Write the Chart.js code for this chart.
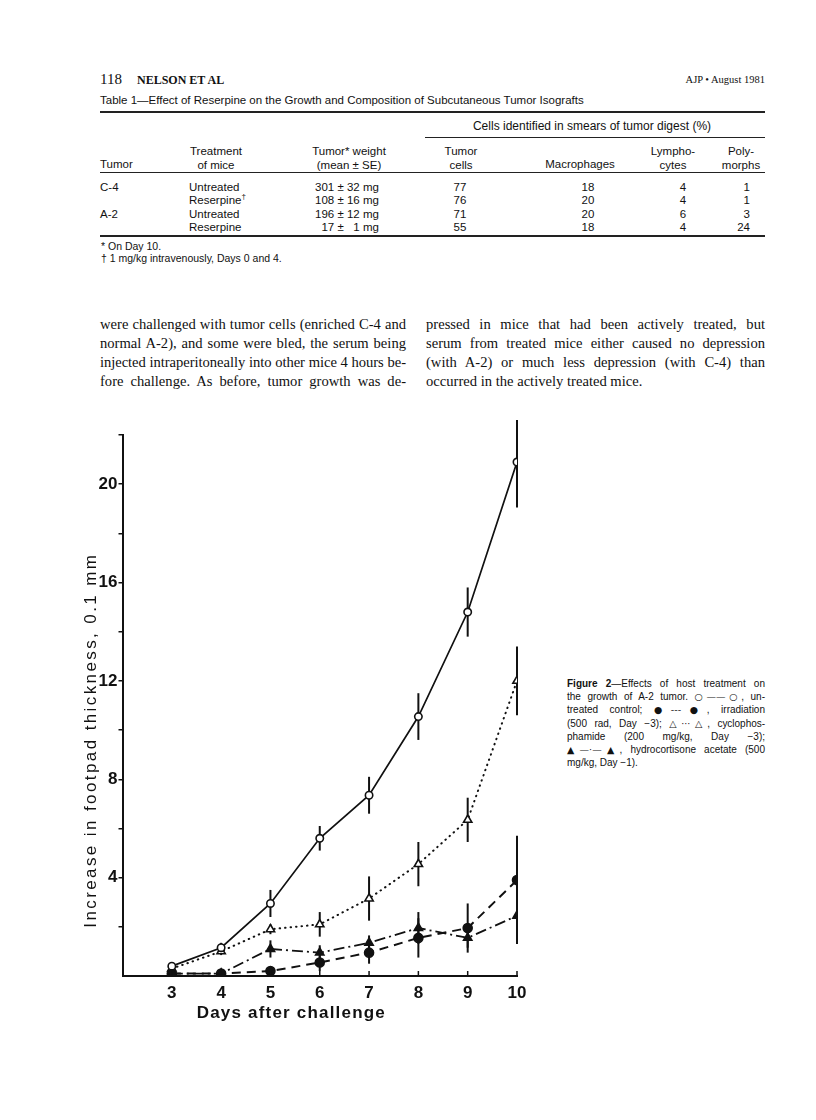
<!DOCTYPE html>
<html>
<head>
<meta charset="utf-8">
<script src="https://cdn.jsdelivr.net/npm/chart.js@4.4.1/dist/chart.umd.min.js"></script>
<style>
  body { margin: 0; background: #fff; }
  #page { position: relative; width: 816px; height: 1120px; overflow: hidden; color: #111; }
  .a { position: absolute; white-space: nowrap; }
  .serif { font-family: "Liberation Serif", "DejaVu Serif", serif; }
  .tab { font-family: "Liberation Sans", Arial, sans-serif; font-size: 11.5px; line-height: 14px; }
  .rule { position: absolute; background: #222; }
  .c { text-align: center; width: 140px; margin-left: -70px; }
  .r { text-align: right; }
  .body { font-family: "Liberation Serif", serif; font-size: 14.6px; line-height: 19px; }
  .j { text-align: justify; text-align-last: justify; white-space: normal; }
  .cap { font-family: "Liberation Sans", Arial, sans-serif; font-size: 10px; line-height: 13.2px; }
  .sym { font-family: "DejaVu Sans", sans-serif; font-size: 9.5px; }
  #fig { position: absolute; left: 40px; top: 420px; }
</style>
</head>
<body>
<div id="page">
  <!-- running head -->
  <div class="a serif" style="left:100px;top:71px;font-size:15px;">118</div>
  <div class="a serif" style="left:137px;top:73px;font-size:12px;font-weight:bold;">NELSON ET AL</div>
  <div class="a serif" style="right:51px;top:74px;font-size:10.5px;">AJP • August 1981</div>

  <!-- table -->
  <div class="a tab" style="left:100px;top:93px;">Table 1—Effect of Reserpine on the Growth and Composition of Subcutaneous Tumor Isografts</div>
  <div class="rule" style="left:100px;top:111px;width:665px;height:1.5px;"></div>
  <div class="a tab c" style="left:592px;top:119px;width:320px;margin-left:-160px;font-size:12px;">Cells identified in smears of tumor digest (%)</div>
  <div class="rule" style="left:425px;top:137px;width:340px;height:1px;"></div>

  <div class="a tab" style="left:100px;top:157px;">Tumor</div>
  <div class="a tab c" style="left:216px;top:144px;">Treatment<br>of mice</div>
  <div class="a tab c" style="left:349px;top:144px;">Tumor* weight<br>(mean ± SE)</div>
  <div class="a tab c" style="left:461px;top:144px;">Tumor<br>cells</div>
  <div class="a tab c" style="left:580px;top:157px;">Macrophages</div>
  <div class="a tab c" style="left:673px;top:144px;">Lympho-<br>cytes</div>
  <div class="a tab c" style="left:741px;top:144px;">Poly-<br>morphs</div>
  <div class="rule" style="left:100px;top:172px;width:665px;height:1px;"></div>

  <div class="a tab" style="left:100px;top:180px;">C-4</div>
  <div class="a tab" style="left:189px;top:180px;">Untreated</div>
  <div class="a tab" style="left:189px;top:193px;">Reserpine<sup style="font-size:8px;line-height:0;">†</sup></div>
  <div class="a tab" style="left:100px;top:207px;">A-2</div>
  <div class="a tab" style="left:189px;top:207px;">Untreated</div>
  <div class="a tab" style="left:189px;top:220px;">Reserpine</div>

  <div class="a tab" style="left:315px;top:180px;">301 ± 32 mg</div>
  <div class="a tab" style="left:315px;top:193px;">108 ± 16 mg</div>
  <div class="a tab" style="left:315px;top:207px;">196 ± 12 mg</div>
  <div class="a tab" style="left:315px;top:220px;">&#8199;17 ± &#8199;1 mg</div>

  <div class="a tab c" style="left:460px;top:180px;">77</div>
  <div class="a tab c" style="left:460px;top:193px;">76</div>
  <div class="a tab c" style="left:460px;top:207px;">71</div>
  <div class="a tab c" style="left:460px;top:220px;">55</div>

  <div class="a tab c" style="left:588px;top:180px;">18</div>
  <div class="a tab c" style="left:588px;top:193px;">20</div>
  <div class="a tab c" style="left:588px;top:207px;">20</div>
  <div class="a tab c" style="left:588px;top:220px;">18</div>

  <div class="a tab c" style="left:683px;top:180px;">4</div>
  <div class="a tab c" style="left:683px;top:193px;">4</div>
  <div class="a tab c" style="left:683px;top:207px;">6</div>
  <div class="a tab c" style="left:683px;top:220px;">4</div>

  <div class="a tab r" style="right:66px;top:180px;">1</div>
  <div class="a tab r" style="right:66px;top:193px;">1</div>
  <div class="a tab r" style="right:66px;top:207px;">3</div>
  <div class="a tab r" style="right:66px;top:220px;">24</div>
  <div class="rule" style="left:100px;top:235px;width:665px;height:1.5px;"></div>

  <div class="a tab" style="left:101px;top:239px;font-size:10.5px;">* On Day 10.</div>
  <div class="a tab" style="left:101px;top:251px;font-size:10.5px;">† 1 mg/kg intravenously, Days 0 and 4.</div>

  <!-- body text -->
  <div class="a body" style="left:100px;top:315px;width:306px;white-space:normal;">
    <div class="j">were challenged with tumor cells (enriched C-4 and</div>
    <div class="j">normal A-2), and some were bled, the serum being</div>
    <div class="j">injected intraperitoneally into other mice 4 hours be-</div>
    <div class="j">fore challenge. As before, tumor growth was de-</div>
  </div>
  <div class="a body" style="left:426px;top:315px;width:339px;white-space:normal;">
    <div class="j">pressed in mice that had been actively treated, but</div>
    <div class="j">serum from treated mice either caused no depression</div>
    <div class="j">(with A-2) or much less depression (with C-4) than</div>
    <div>occurred in the actively treated mice.</div>
  </div>

  <!-- figure legend -->
  <div class="a cap" style="left:567px;top:677px;width:198px;white-space:normal;">
    <div class="j"><b>Figure 2</b>—Effects of host treatment on</div>
    <div class="j">the growth of A-2 tumor. <span class="sym">○——○</span>, un-</div>
    <div class="j">treated control; <span class="sym">●---●</span>, irradiation</div>
    <div class="j">(500 rad, Day −3); <span class="sym">△···△</span>, cyclophos-</div>
    <div class="j">phamide (200 mg/kg, Day −3);</div>
    <div class="j"><span class="sym">▲—·—▲</span>, hydrocortisone acetate (500</div>
    <div>mg/kg, Day −1).</div>
  </div>

  <canvas id="fig" width="500" height="620"></canvas>
</div>

<script>
// Days after challenge
const days = [3, 4, 5, 6, 7, 8, 9, 10];

// Increase in footpad thickness (0.1 mm), mean and SE bar half-length
const control = [0.4, 1.15, 2.95, 5.6, 7.35, 10.55, 14.8, 20.9];
const controlSE = [0.15, 0.2, 0.55, 0.5, 0.75, 0.95, 1.0, 1.85];
const irradiation = [0.1, 0.1, 0.2, 0.55, 0.95, 1.55, 1.95, 3.9];
const irradiationSE = [0, 0, 0, 0.35, 0.45, 0.8, 1.0, 1.8];
const cyclophosphamide = [0.3, 1.0, 1.9, 2.1, 3.15, 4.55, 6.35, 12.0];
const cyclophosphamideSE = [0.1, 0.15, 0.2, 0.5, 0.9, 0.9, 0.9, 1.4];
const hydrocortisone = [0.1, 0.1, 1.1, 0.95, 1.35, 1.95, 1.55, 2.45];
const hydrocortisoneSE = [0, 0, 0.35, 0.3, 0.3, 0.65, 0.4, 1.15];

// labelled y ticks (unlabelled ticks every 2)
const yLabels = [4, 8, 12, 16, 20];
const xTitle = 'Days after challenge';
const yTitle = 'Increase in footpad thickness, 0.1 mm';

const ink = '#111';
const axisFont = '"Liberation Sans", Arial, sans-serif';

// squeeze any justified line that would otherwise wrap
document.querySelectorAll('.j').forEach(el => {
  el.style.whiteSpace = 'nowrap';
  const range = document.createRange();
  range.selectNodeContents(el);
  const w = range.getBoundingClientRect().width;
  const target = el.clientWidth;
  if (w > target) {
    el.style.letterSpacing = ((target - w) / el.textContent.length - 0.02) + 'px';
  }
  el.style.whiteSpace = 'normal';
});

function series(values, errors, style) {
  return Object.assign({
    data: days.map((d, i) => ({ x: d, y: values[i] })),
    errors: errors,
    borderColor: ink,
    pointBorderColor: ink,
    pointBorderWidth: 1.6,
    pointRadius: 3.7,
    tension: 0,
    fill: false
  }, style);
}

// vertical SE bars, drawn under the lines and markers
const errorBars = {
  id: 'errorBars',
  beforeDatasetsDraw(chart) {
    const { ctx, scales: { x, y } } = chart;
    ctx.save();
    ctx.strokeStyle = ink;
    ctx.lineWidth = 2;
    chart.data.datasets.forEach(ds => {
      ds.data.forEach((pt, i) => {
        const e = ds.errors[i];
        if (!e) return;
        const px = x.getPixelForValue(pt.x);
        ctx.beginPath();
        ctx.moveTo(px, y.getPixelForValue(pt.y - e));
        ctx.lineTo(px, y.getPixelForValue(pt.y + e));
        ctx.stroke();
      });
    });
    ctx.restore();
  }
};

// inward x ticks and spaced-out axis titles
const axisExtras = {
  id: 'axisExtras',
  afterDraw(chart) {
    const { ctx, chartArea, scales: { x } } = chart;
    ctx.save();
    ctx.strokeStyle = ink;
    ctx.lineWidth = 1.5;
    x.ticks.forEach(t => {
      if (t.value <= x.min) return;
      const px = x.getPixelForValue(t.value);
      ctx.beginPath();
      ctx.moveTo(px, chartArea.bottom);
      ctx.lineTo(px, chartArea.bottom - 5);
      ctx.stroke();
    });

    ctx.fillStyle = ink;
    ctx.textAlign = 'center';
    ctx.textBaseline = 'middle';
    ctx.font = 'bold 17px ' + axisFont;
    ctx.letterSpacing = '1.2px';
    ctx.fillText(xTitle, chartArea.left + chartArea.width * 0.428, chartArea.bottom + 37);

    ctx.translate(chartArea.left - 31, chartArea.top + chartArea.height * 0.564);
    ctx.rotate(-Math.PI / 2);
    ctx.font = '17px ' + axisFont;
    ctx.letterSpacing = '2.4px';
    ctx.fillText(yTitle, 0, 0);
    ctx.restore();
  }
};

new Chart(document.getElementById('fig'), {
  type: 'line',
  data: {
    datasets: [
      series(control, controlSE, { pointStyle: 'circle', pointBackgroundColor: '#fff', borderWidth: 1.7 }),
      series(irradiation, irradiationSE, { pointStyle: 'circle', pointBackgroundColor: ink, pointRadius: 4.5, borderWidth: 2, borderDash: [9, 6] }),
      series(cyclophosphamide, cyclophosphamideSE, { pointStyle: 'triangle', pointBackgroundColor: '#fff', pointRadius: 4.8, borderWidth: 2, borderDash: [0.5, 5], borderCapStyle: 'round' }),
      series(hydrocortisone, hydrocortisoneSE, { pointStyle: 'triangle', pointBackgroundColor: ink, pointRadius: 4.8, borderWidth: 1.8, borderDash: [11, 4, 2, 4] })
    ]
  },
  options: {
    responsive: false,
    animation: false,
    devicePixelRatio: 1,
    layout: { padding: { left: 0, right: 23, top: 15, bottom: 0 } },
    plugins: { legend: { display: false }, tooltip: { enabled: false } },
    scales: {
      x: {
        type: 'linear',
        min: 2,
        max: 10,
        afterFit: s => { s.height = 64; },
        grid: { display: false, drawTicks: false },
        border: { display: true, color: ink, width: 2 },
        ticks: {
          stepSize: 1,
          autoSkip: false,
          padding: 7,
          color: ink,
          font: { family: axisFont, size: 17, weight: 'bold' },
          callback: v => (v >= 3 ? String(v) : '')
        }
      },
      y: {
        min: 0,
        max: 22,
        afterFit: s => { s.width = 82.5; },
        grid: {
          display: true,
          drawOnChartArea: false,
          drawTicks: true,
          tickLength: 4,
          lineWidth: 1.5,
          color: c => (c.tick && c.tick.value === 0 ? 'rgba(0,0,0,0)' : ink)
        },
        border: { display: true, color: ink, width: 2 },
        ticks: {
          stepSize: 2,
          autoSkip: false,
          padding: 1,
          color: ink,
          font: { family: axisFont, size: 17, weight: 'bold' },
          callback: v => (yLabels.includes(v) ? String(v) : '')
        }
      }
    }
  },
  plugins: [errorBars, axisExtras]
});
</script>
</body>
</html>
